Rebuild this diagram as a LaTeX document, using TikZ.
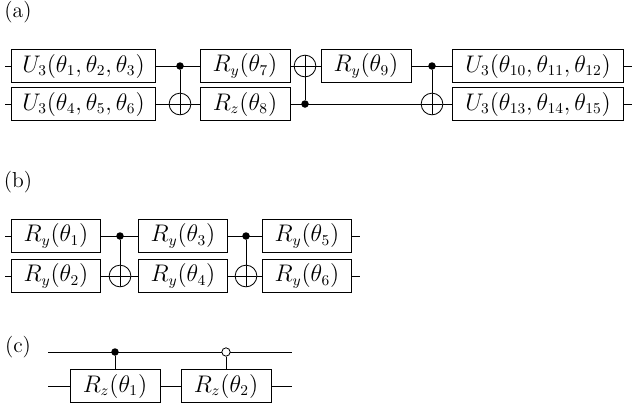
\documentclass[tikz,border=0pt]{standalone}
\begin{document}
\begin{tikzpicture}[x=0.6pt,y=-0.6pt,line width=0.5pt,
 gate/.style={draw,fill=white,minimum height=19.5pt,inner sep=0.5pt,font=\fontsize{13.5}{16}\selectfont},
 ctrl/.style={circle,fill,inner sep=0pt,minimum size=4.5pt},
 octrl/.style={circle,draw,fill=white,inner sep=0pt,minimum size=5pt},
 targ/.style={circle,draw,fill=white,inner sep=0pt,minimum size=13pt,path picture={\draw (path picture bounding box.north)--(path picture bounding box.south)(path picture bounding box.west)--(path picture bounding box.east);}},
 lbl/.style={font=\fontsize{13}{16}\selectfont}]
\useasboundingbox (0,0) rectangle (640,408);
% (a)
\node[lbl] (la) at (18,12) {(a)};
\coordinate (a1s) at (5,66); \coordinate (a1e) at (632,66);
\coordinate (a2s) at (5,104); \coordinate (a2e) at (632,104);
\draw (a1s)--(a1e); \draw (a2s)--(a2e);
\node[gate,minimum width=86pt] (u1) at (83.5,66) {$U_3(\theta_1,\theta_2,\theta_3)$};
\node[gate,minimum width=86pt] (u2) at (83.5,104) {$U_3(\theta_4,\theta_5,\theta_6)$};
\node[ctrl] (c1) at (180,66) {}; \node[targ] (t1) at (180,104) {};
\draw (c1)--(t1.north);
\node[gate,minimum width=54pt] (g7) at (245,66) {$R_y(\theta_7)$};
\node[gate,minimum width=54pt] (g8) at (245,104) {$R_z(\theta_8)$};
\node[targ] (t2) at (305,66) {}; \node[ctrl] (c2) at (305,104) {};
\draw (c2)--(t2.south);
\node[gate,minimum width=54pt] (g9) at (366,66) {$R_y(\theta_9)$};
\node[ctrl] (c3) at (432,66) {}; \node[targ] (t3) at (432,104) {};
\draw (c3)--(t3.north);
\node[gate,minimum width=103pt] (u3) at (538,66) {$U_3(\theta_{10},\theta_{11},\theta_{12})$};
\node[gate,minimum width=103pt] (u4) at (538,104) {$U_3(\theta_{13},\theta_{14},\theta_{15})$};
% (b)
\node[lbl] (lb) at (18,182) {(b)};
\coordinate (b1s) at (5,236); \coordinate (b1e) at (360,236);
\coordinate (b2s) at (5,276); \coordinate (b2e) at (360,276);
\draw (b1s)--(b1e); \draw (b2s)--(b2e);
\node[gate,minimum width=53pt] (b1) at (56,236) {$R_y(\theta_1)$};
\node[gate,minimum width=53pt] (b2) at (56,276) {$R_y(\theta_2)$};
\node[ctrl] (bc1) at (120,236) {}; \node[targ] (bt1) at (120,276) {};
\draw (bc1)--(bt1.north);
\node[gate,minimum width=53pt] (b3) at (183,236) {$R_y(\theta_3)$};
\node[gate,minimum width=53pt] (b4) at (183,276) {$R_y(\theta_4)$};
\node[ctrl] (bc2) at (246,236) {}; \node[targ] (bt2) at (246,276) {};
\draw (bc2)--(bt2.north);
\node[gate,minimum width=53pt] (b5) at (307,236) {$R_y(\theta_5)$};
\node[gate,minimum width=53pt] (b6) at (307,276) {$R_y(\theta_6)$};
% (c)
\node[lbl] (lc) at (18,347) {(c)};
\coordinate (c1s) at (48,352); \coordinate (c1e) at (292,352);
\coordinate (c2s) at (48,386); \coordinate (c2e) at (292,386);
\draw (c1s)--(c1e); \draw (c2s)--(c2e);
\node[gate,minimum width=54pt] (r1) at (115,386) {$R_z(\theta_1)$};
\node[gate,minimum width=54pt] (r2) at (226,386) {$R_z(\theta_2)$};
\node[ctrl] (cc1) at (115,352) {}; \draw (cc1)--(r1.north);
\node[octrl] (cc2) at (226,352) {}; \draw (cc2)--(r2.north);
\end{tikzpicture}
\end{document}
